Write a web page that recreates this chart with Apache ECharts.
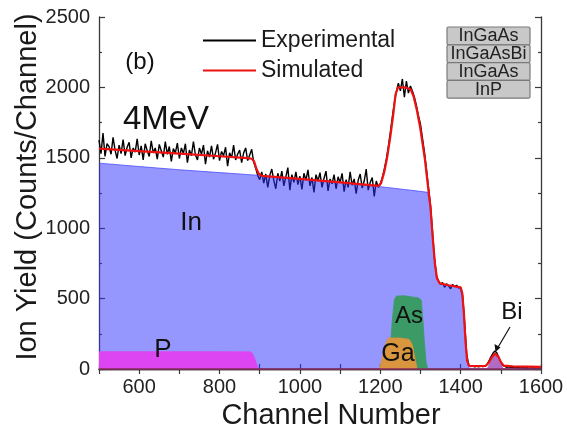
<!DOCTYPE html>
<html>
<head>
<meta charset="utf-8">
<script src="https://cdn.jsdelivr.net/npm/echarts@6/dist/echarts.min.js"></script>
<style>
  html, body { margin: 0; padding: 0; background: #fff; }
  #chart { width: 567px; height: 441px; }
</style>
</head>
<body>
<div id="chart"></div>
<script>
// RBS spectrum, 4 MeV: measured counts, simulated fit and per-element contributions

const FONT = '"Liberation Sans", Arial, sans-serif';

// Experimental spectrum: counts every 5 channels starting at channel 500
const expStart = 500;
const expStep = 5;
const experimental = [
  1625, 1530, 1675, 1510, 1600, 1580, 1525, 1645, 1555, 1495,
  1590, 1530, 1630, 1515, 1575, 1610, 1500, 1570, 1540, 1635,
  1520, 1585, 1485, 1600, 1550, 1510, 1620, 1535, 1570, 1490,
  1595, 1550, 1505, 1615, 1525, 1580, 1475, 1565, 1535, 1605,
  1495, 1570, 1530, 1600, 1465, 1555, 1515, 1615, 1520, 1485,
  1570, 1525, 1590, 1455, 1550, 1505, 1585, 1490, 1535, 1595,
  1480, 1545, 1515, 1575, 1440, 1535, 1500, 1590, 1485, 1525,
  1555, 1465, 1535, 1570, 1480, 1520, 1560, 1470, 1425, 1375,
  1345, 1400, 1320, 1385, 1290, 1375, 1420, 1340, 1280, 1390,
  1335, 1405, 1300, 1365, 1430, 1270, 1380, 1325, 1400, 1310,
  1370, 1275, 1390, 1340, 1415, 1300, 1360, 1255, 1380, 1335,
  1395, 1290, 1355, 1405, 1265, 1350, 1315, 1380, 1280, 1365,
  1325, 1390, 1260, 1345, 1290, 1400, 1305, 1350, 1245, 1340,
  1385, 1285, 1335, 1420, 1270, 1325, 1360, 1225, 1335, 1290,
  1310, 1360, 1420, 1490, 1580, 1680, 1790, 1890, 1970, 2030,
  1975, 2060, 1930, 2045, 1960, 2010, 1975, 1930, 1870, 1800,
  1740, 1640, 1540, 1420, 1290, 1160, 980, 780, 660, 625,
  600, 615, 580, 605, 590, 570, 600, 585, 595, 575,
  580, 520, 330, 110, 30, 18, 22, 15, 20, 16,
  22, 18, 20, 30, 55, 85, 110, 128, 115, 80,
  45, 25, 18, 12, 15, 10, 12, 8, 10, 9,
  8, 10, 7, 9, 6, 8, 7, 5, 8, 6,
  6
];

// Simulated spectrum [channel, counts]
const simulated = [
  [500, 1565], [600, 1547], [700, 1529], [800, 1511], [870, 1498], [880, 1493],
  [886, 1475], [892, 1420], [898, 1385], [905, 1372], [1000, 1350], [1100, 1325],
  [1195, 1300], [1202, 1320], [1210, 1400], [1217, 1500], [1225, 1650], [1232, 1800],
  [1238, 1950], [1244, 2000], [1262, 2000], [1276, 1985], [1283, 1935], [1291, 1840],
  [1299, 1720], [1311, 1490], [1319, 1290], [1325, 1150], [1330, 950], [1336, 750],
  [1341, 645], [1348, 608], [1370, 595], [1400, 580], [1404, 540], [1408, 400],
  [1412, 200], [1416, 60], [1421, 22], [1440, 20], [1462, 22], [1470, 45],
  [1478, 85], [1486, 110], [1494, 88], [1500, 50], [1507, 24], [1530, 18],
  [1600, 15]
];

// Element contributions [channel, counts]
const indium = [
  [500, 1462], [600, 1438], [700, 1415], [800, 1395], [900, 1375], [1000, 1350],
  [1100, 1325], [1200, 1295], [1260, 1275], [1318, 1255], [1324, 1150], [1330, 950],
  [1336, 750], [1341, 640], [1348, 605], [1398, 580], [1405, 500], [1410, 300],
  [1414, 120], [1418, 30], [1422, 0], [1600, 0]
];
const phosphorus = [
  [500, 123], [700, 123], [876, 122], [882, 110], [888, 70], [893, 25], [897, 0]
];
const arsenic = [
  [1218, 0], [1225, 150], [1230, 350], [1235, 490], [1240, 518], [1260, 520],
  [1295, 505], [1302, 490], [1306, 350], [1310, 180], [1314, 50], [1318, 0]
];
const gallium = [
  [1198, 0], [1205, 80], [1212, 170], [1220, 220], [1250, 220], [1272, 210],
  [1280, 170], [1286, 80], [1292, 0]
];
const bismuth = [
  [1466, 0], [1474, 50], [1480, 90], [1486, 105], [1492, 90], [1498, 50], [1506, 0]
];

// Axis ranges: ticks every 100 channels, labels every 200
const xMin = 500, xMax = 1600, xInterval = 100, xLabelEvery = 200;
const yMin = 0, yMax = 2500, yInterval = 500;

const expData = experimental.map((v, i) => [expStart + i * expStep, v]);

const chart = echarts.init(document.getElementById('chart'), null, { renderer: 'canvas' });

const axisLine = { show: true, lineStyle: { color: '#3a3a3a', width: 1.3 } };
const tickStyle = { color: '#3a3a3a', width: 1.2 };
const plainNumber = v => String(v);

function areaSeries(name, data, color, z, extra) {
  return Object.assign({
    name: name,
    type: 'line',
    data: data,
    symbol: 'none',
    z: z,
    silent: true,
    lineStyle: { width: 0.8, color: color },
    areaStyle: { color: color, opacity: 1 }
  }, extra || {});
}

chart.setOption({
  animation: false,
  backgroundColor: '#ffffff',
  grid: { left: 99, right: 26, top: 17, bottom: 72, outerBoundsMode: 'none', containLabel: false },
  legend: {
    data: ['Experimental', 'Simulated'],
    orient: 'vertical',
    left: 197,
    top: 24,
    itemWidth: 53,
    itemHeight: 16,
    itemGap: 7,
    itemStyle: { opacity: 0 },
    textStyle: { fontFamily: FONT, fontSize: 23, color: '#1a1a1a' }
  },
  xAxis: [
    {
      type: 'value', min: xMin, max: xMax, interval: xInterval,
      name: 'Channel Number', nameLocation: 'middle', nameGap: 32,
      nameTextStyle: { fontFamily: FONT, fontSize: 29, color: '#1a1a1a', padding: [0, 0, 0, 22] },
      axisLine: axisLine,
      axisTick: { inside: true, length: 5, lineStyle: tickStyle },
      axisLabel: {
        fontFamily: FONT, fontSize: 20, color: '#222', margin: 8,
        formatter: v => (v % xLabelEvery === 0 ? String(v) : '')
      },
      splitLine: { show: false }
    },
    {
      type: 'value', min: xMin, max: xMax, interval: xInterval, position: 'top',
      axisLine: axisLine,
      axisTick: { inside: true, length: 5, lineStyle: tickStyle },
      axisLabel: { show: false },
      splitLine: { show: false }
    }
  ],
  yAxis: [
    {
      type: 'value', min: yMin, max: yMax, interval: yInterval,
      name: 'Ion Yield (Counts/Channel)', nameLocation: 'middle', nameGap: 57,
      nameMoveOverlap: false,
      nameTextStyle: { fontFamily: FONT, fontSize: 29, color: '#1a1a1a', padding: [0, 0, 0, 12] },
      axisLine: axisLine,
      axisTick: { inside: true, length: 6, lineStyle: tickStyle },
      minorTick: { show: true, splitNumber: 2, length: 3, lineStyle: tickStyle },
      axisLabel: { fontFamily: FONT, fontSize: 20, color: '#222', margin: 9, formatter: plainNumber },
      splitLine: { show: false }
    },
    {
      type: 'value', min: yMin, max: yMax, interval: yInterval, position: 'right',
      axisLine: axisLine,
      axisTick: { inside: true, length: 6, lineStyle: tickStyle },
      minorTick: { show: true, splitNumber: 2, length: 3, lineStyle: tickStyle },
      axisLabel: { show: false },
      splitLine: { show: false }
    }
  ],
  series: [
    {
      name: 'Experimental',
      type: 'line',
      data: expData,
      symbol: 'none',
      z: 1,
      color: '#000000',
      lineStyle: { color: '#000000', width: 1.4 }
    },
    areaSeries('In', indium, 'rgba(45,45,255,0.5)', 2, {
      lineStyle: { width: 1, color: 'rgba(70,70,255,0.75)' },
      areaStyle: { color: 'rgba(45,45,255,0.5)', opacity: 1 },
      markLine: {
        silent: true, symbol: 'none', label: { show: false },
        lineStyle: { color: '#8a2a5a', width: 1.6, type: 'solid' },
        data: [{ yAxis: 0 }]
      }
    }),
    areaSeries('P', phosphorus, '#dd44f2', 3),
    areaSeries('As', arsenic, '#3b9a66', 3),
    areaSeries('Ga', gallium, '#d9963e', 4),
    areaSeries('Bi', bismuth, '#b06cc4', 3),
    {
      name: 'Simulated',
      type: 'line',
      data: simulated,
      symbol: 'none',
      z: 6,
      color: '#ee1111',
      lineStyle: { color: '#ee1111', width: 2.2 }
    }
  ]
});

// Annotations: panel tag, beam energy, element labels, Bi arrow and layer stack
const txt = (text, x, y, size) => ({
  type: 'text', x: x, y: y, z: 100,
  style: { text: text, fontFamily: FONT, fontSize: size, fill: '#111', align: 'center', verticalAlign: 'middle' }
});

const layers = ['InGaAs', 'InGaAsBi', 'InGaAs', 'InP'];
const boxLeft = 447, boxTop = 27, boxW = 83, rowH = 17.8;
const layerGraphics = [];
layers.forEach((name, i) => {
  layerGraphics.push({
    type: 'rect', z: 100,
    shape: { x: boxLeft, y: boxTop + i * rowH, width: boxW, height: rowH, r: 1.5 },
    style: { fill: '#c8c8c8', stroke: '#7a7a7a', lineWidth: 1.2 }
  });
  layerGraphics.push({
    type: 'text', z: 101,
    x: boxLeft + boxW / 2, y: boxTop + i * rowH + rowH / 2 + 0.5,
    style: { text: name, fontFamily: FONT, fontSize: 18, fill: '#222', align: 'center', verticalAlign: 'middle' }
  });
});

chart.setOption({
  graphic: [
    txt('(b)', 140, 62, 24),
    txt('4MeV', 166, 120, 33),
    txt('In', 191, 223, 26),
    txt('P', 163, 350, 26),
    txt('As', 409, 316, 24),
    txt('Ga', 398, 354, 25),
    txt('Bi', 512, 312, 24),
    {
      type: 'line', z: 100,
      shape: { x1: 510, y1: 327, x2: 497, y2: 349 },
      style: { stroke: '#111', lineWidth: 1.2 }
    },
    {
      type: 'polygon', z: 100,
      shape: { points: [[495.5, 352], [494.5, 344], [500.5, 347.5]] },
      style: { fill: '#111' }
    }
  ].concat(layerGraphics)
});
</script>
</body>
</html>
